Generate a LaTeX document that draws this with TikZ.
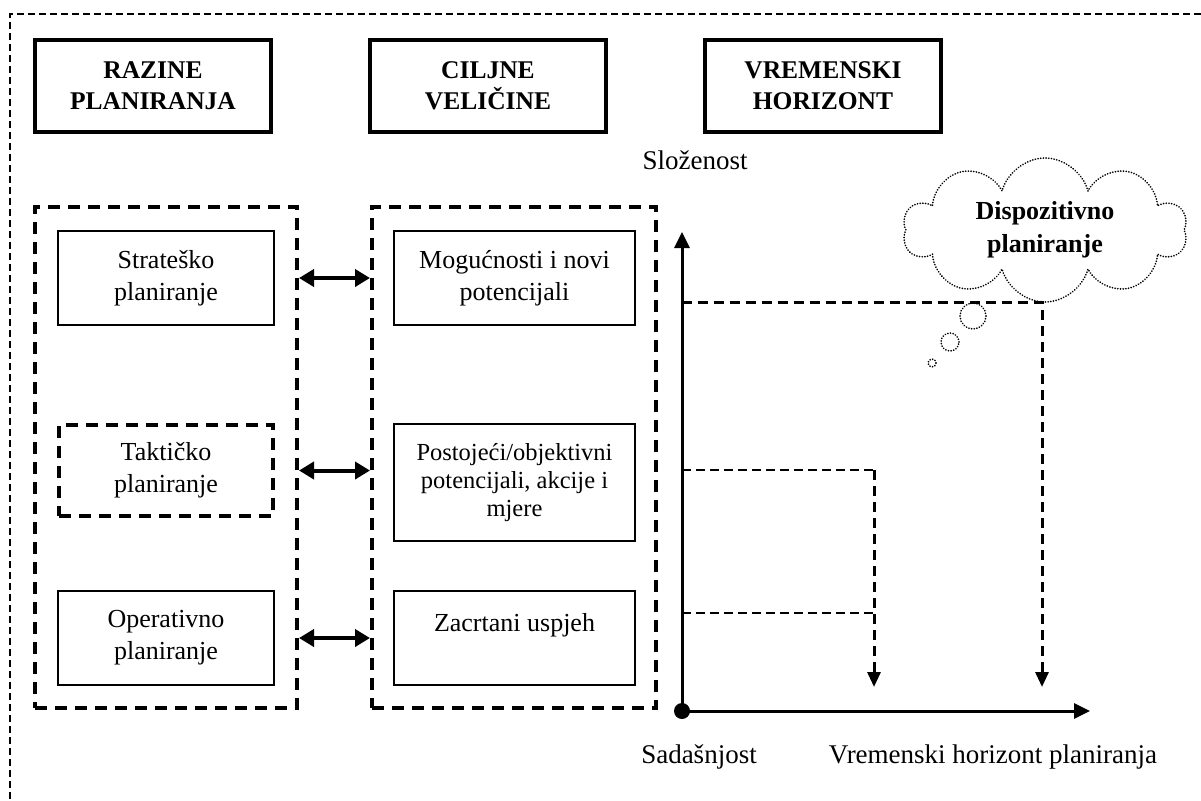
\documentclass[tikz,border=0pt]{standalone}
\usepackage{fontspec}
\setmainfont{Liberation Serif}
\usetikzlibrary{arrows.meta,shapes.symbols}
\begin{document}
\begin{tikzpicture}[x=1pt,y=-1pt,
  hdr/.style={draw,line width=4pt,minimum width=236pt,minimum height=92pt,
    inner sep=0pt,align=center,font=\fontsize{25.5}{31}\selectfont\bfseries},
  group/.style={draw,line width=4pt,dash pattern=on 12pt off 8pt,
    minimum height=501pt,inner sep=0pt},
  item/.style={draw,line width=2pt,inner sep=0pt,align=center,
    font=\fontsize{26}{32}\selectfont},
  dashitem/.style={item,line width=4pt,dash pattern=on 12pt off 8pt},
  lab/.style={font=\fontsize{27}{30}\selectfont,inner sep=0pt},
  link/.style={line width=4pt,{Triangle[length=15pt,width=17pt]}-{Triangle[length=15pt,width=17pt]}},
  axis/.style={line width=3pt,-{Triangle[length=16pt,width=15pt]}},
  guide/.style={line width=3pt,dash pattern=on 10pt off 6pt},
  guidethin/.style={line width=2pt,dash pattern=on 9pt off 5pt},
  drop/.style={-{Triangle[length=15pt,width=13pt]}},
  dots/.style={line width=1.8pt,dash pattern=on 0.1pt off 2.6pt,line cap=round}
]
\useasboundingbox (0,0) rectangle (1201,800);

% outer frame
\coordinate (fa) at (10,14);
\coordinate (fb) at (1201,14);
\coordinate (fc) at (10,800);
\draw[line width=1.4pt,dash pattern=on 7pt off 4pt] (fb) -- (fa) -- (fc);

% column headers
\node[hdr] (h1) at (153,86) {RAZINE\\PLANIRANJA};
\node[hdr] (h2) at (488,86) {CILJNE\\VELIČINE};
\node[hdr] (h3) at (823,86) {VREMENSKI\\HORIZONT};

% planning levels
\node[group,minimum width=262pt] (lev) at (166,457.5) {};
\node[item,minimum width=216pt,minimum height=94pt] (s1) at (166,278) {Strateško\\planiranje};
\node[dashitem,minimum width=214pt,minimum height=91pt] (s2) at (166,470.5) {Taktičko\\planiranje};
\node[item,minimum width=216pt,minimum height=94pt] (s3) at (166,638) {Operativno\\planiranje};

% target quantities
\node[group,minimum width=284pt] (tgt) at (514,457.5) {};
\node[item,minimum width=241pt,minimum height=94pt] (t1) at (514.5,278) {Mogućnosti i novi\\potencijali};
\node[item,minimum width=241pt,minimum height=117pt,font=\fontsize{24.5}{28}\selectfont] (t2) at (514.5,482.5) {Postojeći/objektivni\\potencijali, akcije i\\mjere};
\node[item,minimum width=241pt,minimum height=94pt] (t3) at (514.5,638) {Zacrtani uspjeh\\~};

% links between the two columns
\draw[link] (lev.east |- s1) -- (tgt.west |- s1);
\draw[link] (lev.east |- s2) -- (tgt.west |- s2);
\draw[link] (lev.east |- s3) -- (tgt.west |- s3);

% time horizon chart
\coordinate (O) at (682,711);
\coordinate (ytop) at (682,232);
\coordinate (xend) at (1090,711);
\draw[axis] (O) -- (ytop);
\draw[axis] (O) -- (xend);
\fill (O) circle (8pt);
\node[lab] (yl) at (695,160) {Složenost};
\node[lab] (xl0) at (699,757) {Sadašnjost};
\node[lab] (xl1) at (993,757) {Vremenski horizont planiranja};

\coordinate (c1) at (1042,302);
\coordinate (c1e) at (1042,687);
\coordinate (c2) at (874,470);
\coordinate (c2e) at (874,687);
\coordinate (c3) at (874,613);
\draw[guide,drop] (O |- c1) -- (c1) -- (c1e);
\draw[guidethin] (O |- c2) -- (c2);
\draw[guide,drop] (c2) -- (c2e);
\draw[guidethin] (O |- c3) -- (c3);

% thought cloud
\node[cloud,cloud puffs=10,aspect=2,dots,draw,minimum width=284pt,minimum height=144pt,
  inner sep=0pt,align=center,font=\fontsize{26}{33}\selectfont\bfseries] (cl) at (1045,230)
  {Dispozitivno\\planiranje};
\draw[dots] (973,316) circle (13pt);
\draw[dots] (950,342) circle (9pt);
\draw[dots] (932,363) circle (4pt);
\end{tikzpicture}
\end{document}
